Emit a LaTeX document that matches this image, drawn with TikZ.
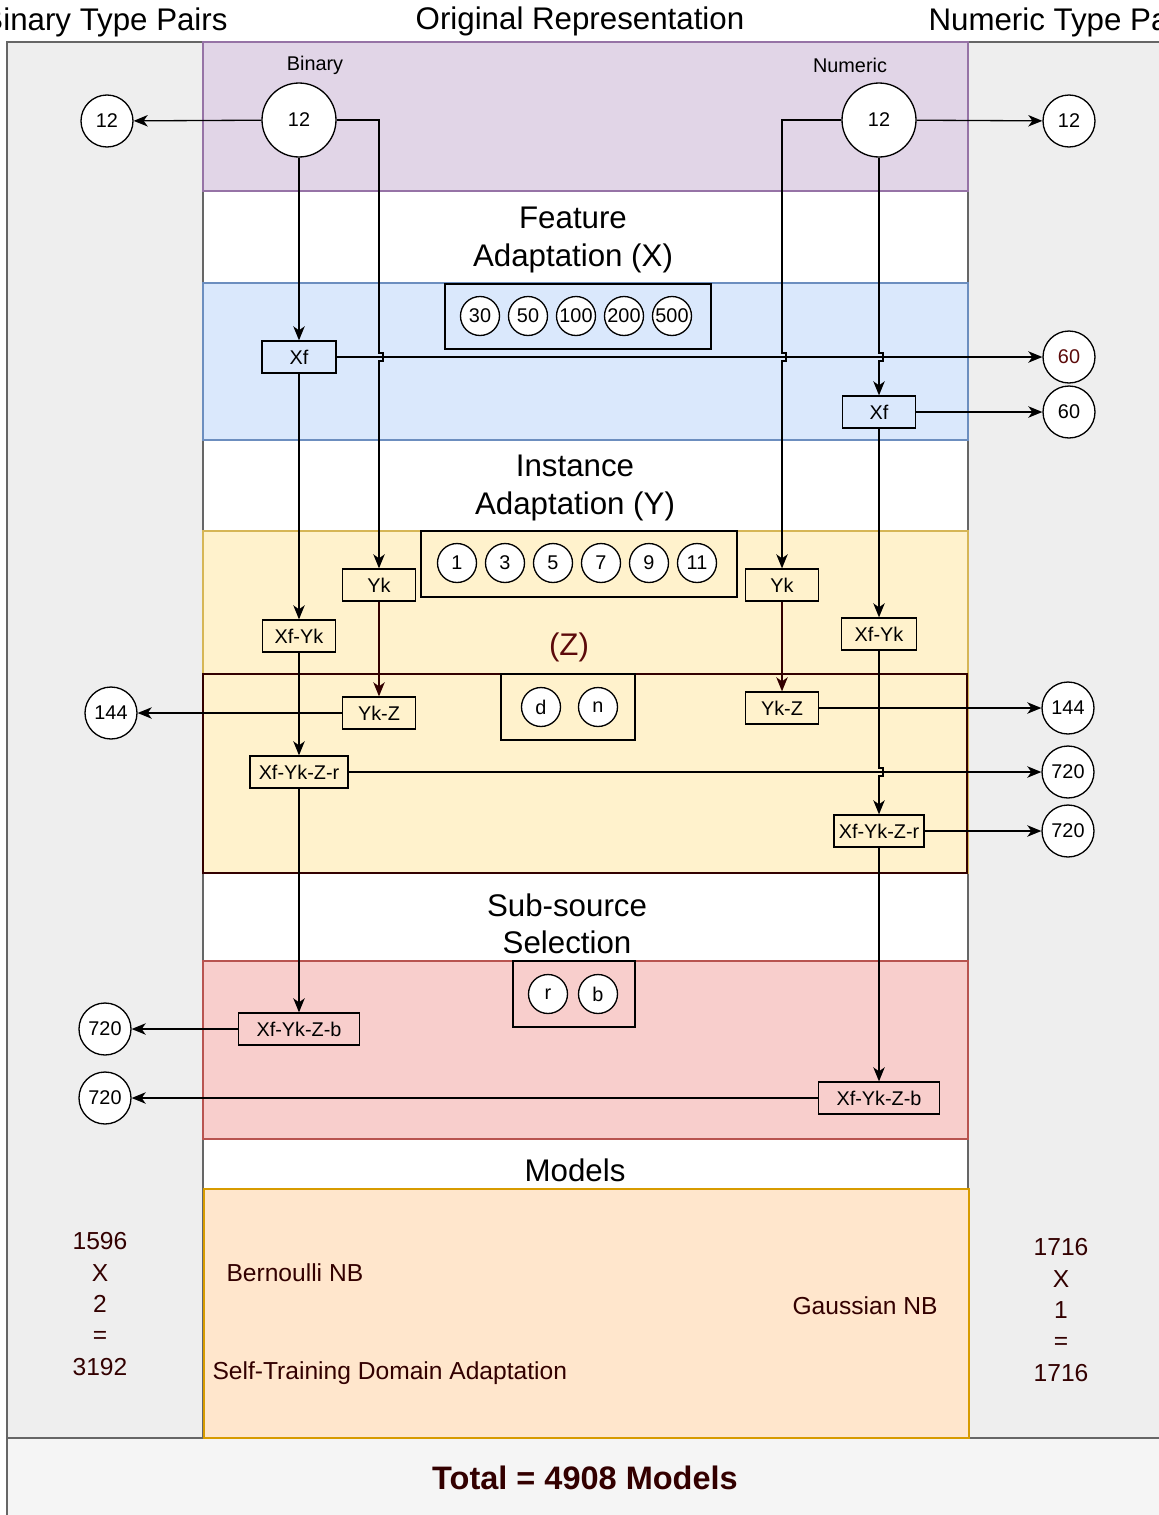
\documentclass[tikz,border=0pt]{standalone}
\usepackage{fontspec}
\setmainfont{Liberation Sans}
\usetikzlibrary{arrows.meta}

\definecolor{panelgray}{HTML}{EEEEEE}
\definecolor{paneledge}{HTML}{666666}
\definecolor{totalgray}{HTML}{F5F5F5}
\definecolor{origfill}{HTML}{E1D5E7}
\definecolor{origedge}{HTML}{9673A6}
\definecolor{featfill}{HTML}{DAE8FC}
\definecolor{featedge}{HTML}{6C8EBF}
\definecolor{instfill}{HTML}{FFF2CC}
\definecolor{instedge}{HTML}{D6B656}
\definecolor{subfill}{HTML}{F8CECC}
\definecolor{subedge}{HTML}{B85450}
\definecolor{modfill}{HTML}{FFE6CC}
\definecolor{modedge}{HTML}{D79B00}
\definecolor{darkbrown}{HTML}{330000}
\definecolor{zred}{HTML}{5C0A0A}

\newcommand{\fsmall}{\fontsize{11.3}{13.5}\selectfont}
\newcommand{\fhead}{\fontsize{17.8}{21.2}\selectfont}
\newcommand{\fbody}{\fontsize{14}{17.9}\selectfont}
\newcommand{\ftotal}{\bfseries\fontsize{18.5}{22}\selectfont}

\begin{document}
\begin{tikzpicture}[
        x=0.02cm, y=-0.02cm,
        line width=0.75pt,
        arr/.style={-{Stealth[length=8pt,width=6.5pt,inset=2.3pt]}},
        box/.style={draw, minimum height=0.64cm, inner sep=1pt, font=\fsmall},
        bigdot/.style={circle, draw, fill=white, minimum size=1.48cm, inner sep=0pt, font=\fsmall},
        outdot/.style={circle, draw, fill=white, minimum size=1.04cm, inner sep=0pt, font=\fsmall},
        pick/.style={circle, draw, fill=white, minimum size=0.78cm, inner sep=0pt, font=\fsmall},
        group/.style={draw, inner sep=0pt},
        head/.style={font=\fhead, align=center},
        body/.style={font=\fbody, text=darkbrown, align=center}
    ]
    \useasboundingbox (0,0) rectangle (1159,1515);
    \clip (0,0) rectangle (1159,1515);

    % Columns
    \fill[white] (203,42) rectangle (968,1438);
    \draw[fill=panelgray, draw=paneledge] (7,42) rectangle (203,1438);
    \draw[fill=panelgray, draw=paneledge] (968,42) rectangle (1185,1438);
    \draw[fill=totalgray, draw=paneledge] (7,1438) rectangle (1185,1525);

    % Stages
    \draw[fill=origfill, draw=origedge] (203,42) rectangle (968,191);
    \draw[fill=featfill, draw=featedge] (203,283) rectangle (968,440);
    \draw[fill=instfill, draw=instedge] (203,531) rectangle (968,873);
    \draw[fill=instfill, draw=darkbrown] (203,674) rectangle (967,873);
    \draw[fill=subfill, draw=subedge] (203,961) rectangle (968,1139);
    \draw[fill=modfill, draw=modedge] (204,1189) rectangle (969,1438);

    % Titles
    \node[head] (tbin)  at (105,22)  {Binary Type Pairs};
    \node[head] (torig) at (580,21)  {Original Representation};
    \node[head] (tnum)  at (1065,22) {Numeric Type Pairs};
    \node[head] (tfeat) at (573,240) {Feature\\Adaptation (X)};
    \node[head] (tinst) at (575,488) {Instance\\Adaptation (Y)};
    \node[head, text=zred] (tz) at (569,647) {(Z)};
    \node[head] (tsub)  at (567,924) {Sub-source\\Selection};
    \node[head] (tmod)  at (575,1170) {Models};
    \node[font=\ftotal, text=darkbrown] (ttot) at (585,1478) {Total = 4908 Models};

    % Parameter groups
    \node[group, minimum width=5.32cm, minimum height=1.3cm] (gx) at (578,316.5) {};
    \foreach \v [count=\i] in {30,50,100,200,500}
        \node[pick] (x\i) at ({432+48*\i},316) {\v};
    \node[group, minimum width=6.32cm, minimum height=1.32cm] (gy) at (579,564) {};
    \foreach \v [count=\i] in {1,3,5,7,9,11}
        \node[pick] (y\i) at ({409+48*\i},563) {\v};
    \node[group, minimum width=2.68cm, minimum height=1.32cm] (gz) at (568,707) {};
    \node[pick] (zd) at (541,707) {d};
    \node[pick] (zn) at (598,707) {n};
    \node[group, minimum width=2.44cm, minimum height=1.32cm] (gs) at (574,994) {};
    \node[pick] (sr) at (548,994) {r};
    \node[pick] (sb) at (598,994) {b};

    % Sources
    \node[font=\fsmall] (lbin) at (315,65) {Binary};
    \node[font=\fsmall] (lnum) at (850,65) {Numeric};
    \node[bigdot] (bin12) at (299,120) {12};
    \node[bigdot] (num12) at (879,120) {12};

    % Binary chain
    \node[box, minimum width=1.48cm] (xfL)    at (299,357)  {Xf};
    \node[box, minimum width=1.46cm] (ykL)    at (379,585)  {Yk};
    \node[box, minimum width=1.46cm] (xfykL)  at (299,636)  {Xf-Yk};
    \node[box, minimum width=1.46cm] (ykzL)   at (379,713)  {Yk-Z};
    \node[box, minimum width=1.96cm] (xfykzrL) at (299,772) {Xf-Yk-Z-r};
    \node[box, minimum width=2.42cm] (xfykzbL) at (299,1029) {Xf-Yk-Z-b};

    % Numeric chain
    \node[box, minimum width=1.46cm] (xfR)    at (879,412)  {Xf};
    \node[box, minimum width=1.46cm] (ykR)    at (782,585)  {Yk};
    \node[box, minimum width=1.5cm]  (xfykR)  at (879,634)  {Xf-Yk};
    \node[box, minimum width=1.46cm] (ykzR)   at (782,708)  {Yk-Z};
    \node[box, minimum width=1.8cm]  (xfykzrR) at (879,831) {Xf-Yk-Z-r};
    \node[box, minimum width=2.42cm] (xfykzbR) at (879,1098) {Xf-Yk-Z-b};

    % Counts
    \node[outdot] (oL12)   at (107,121)  {12};
    \node[outdot] (oR12)   at (1069,121) {12};
    \node[outdot, text=zred] (oR60a) at (1069,357) {60};
    \node[outdot] (oR60b)  at (1069,412) {60};
    \node[outdot] (oL144)  at (111,713)  {144};
    \node[outdot] (oR144)  at (1068,708) {144};
    \node[outdot] (oR720a) at (1068,772) {720};
    \node[outdot] (oR720b) at (1068,831) {720};
    \node[outdot] (oL720a) at (105,1029) {720};
    \node[outdot] (oL720b) at (105,1098) {720};

    % Connectors
    \draw[arr] (bin12) -- (oL12);
    \draw[arr] (num12) -- (oR12);
    \draw[arr] (bin12) -- (xfL);
    \draw[arr] (bin12.east) -| (379,353) -- ++(4,0) -- ++(0,8) -- ++(-4,0) -- (ykL.north);
    \draw[arr] (num12.west) -| (782,353) -- ++(4,0) -- ++(0,8) -- ++(-4,0) -- (ykR.north);
    \draw[arr] (num12.south) -- (879,353) -- ++(4,0) -- ++(0,8) -- ++(-4,0) -- (xfR.north);
    \draw[arr] (xfL) -- (oR60a);
    \draw[arr] (xfR) -- (oR60b);
    \draw[arr] (xfL) -- (xfykL);
    \draw[arr] (xfR) -- (xfykR);
    \draw[arr, draw=darkbrown] (ykL) -- (ykzL);
    \draw[arr, draw=darkbrown] (ykR) -- (ykzR);
    \draw[arr] (ykzL) -- (oL144);
    \draw[arr] (ykzR) -- (oR144);
    \draw[arr] (xfykL) -- (xfykzrL);
    \draw[arr] (xfykR.south) -- (879,768) -- ++(4,0) -- ++(0,8) -- ++(-4,0) -- (xfykzrR.north);
    \draw[arr] (xfykzrL) -- (oR720a);
    \draw[arr] (xfykzrR) -- (oR720b);
    \draw[arr] (xfykzrL) -- (xfykzbL);
    \draw[arr] (xfykzrR) -- (xfykzbR);
    \draw[arr] (xfykzbL) -- (oL720a);
    \draw[arr] (xfykzbR) -- (oL720b);

    % Models
    \node[body] (cntL) at (100,1304) {1596\\X\\2\\=\\3192};
    \node[body] (cntR) at (1061,1310) {1716\\X\\1\\=\\1716};
    \node[body, anchor=west] (mber)  at (220,1273) {Bernoulli NB};
    \node[body, anchor=east] (mgau)  at (944,1306) {Gaussian NB};
    \node[body, anchor=west] (mself) at (206,1373) {Self-Training Domain Adaptation};

\end{tikzpicture}
\end{document}
